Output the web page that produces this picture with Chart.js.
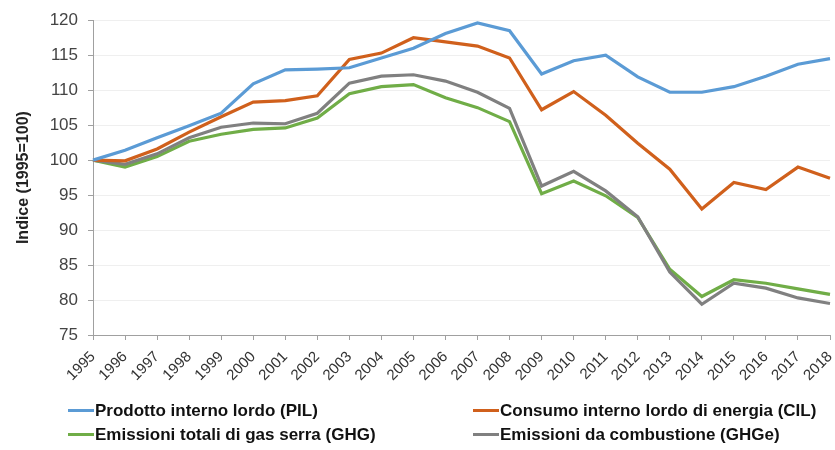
<!DOCTYPE html>
<html>
<head>
<meta charset="utf-8">
<script src="https://cdn.jsdelivr.net/npm/chart.js@4.4.0/dist/chart.umd.min.js"></script>
<style>
  body { margin: 0; background: #fff; }
  #wrap { position: relative; width: 835px; height: 450px; }
  .leg { position: absolute; font: bold 17px/20px "Liberation Sans", Arial, sans-serif; color: #111; white-space: nowrap; }
  .leg span { display: inline-block; width: 26px; height: 3px; vertical-align: middle; margin-right: 1px; position: relative; top: -1px; }
</style>
</head>
<body>
<div id="wrap">
  <canvas id="chart" width="835" height="450"></canvas>
  <div class="leg" style="left:68px; top:401px;"><span style="background:#5b9bd5"></span>Prodotto interno lordo (PIL)</div>
  <div class="leg" style="left:473px; top:401px;"><span style="background:#d0601c"></span>Consumo interno lordo di energia (CIL)</div>
  <div class="leg" style="left:68px; top:425px;"><span style="background:#70ad47"></span>Emissioni totali di gas serra (GHG)</div>
  <div class="leg" style="left:473px; top:425px;"><span style="background:#808080"></span>Emissioni da combustione (GHGe)</div>
</div>
<script>
const years = ['1995','1996','1997','1998','1999','2000','2001','2002','2003','2004','2005','2006',
  '2007','2008','2009','2010','2011','2012','2013','2014','2015','2016','2017','2018'];
const pil  = [100, 101.4, 103.2, 104.9, 106.7, 110.9, 112.9, 113.0, 113.2, 114.6, 116.0, 118.1,
  119.6, 118.5, 112.3, 114.2, 115.0, 111.9, 109.7, 109.7, 110.5, 112.0, 113.7, 114.5];
const cil  = [100, 99.9, 101.6, 104.0, 106.2, 108.3, 108.5, 109.2, 114.4, 115.3, 117.5, 116.9,
  116.3, 114.6, 107.2, 109.8, 106.4, 102.4, 98.7, 93.0, 96.8, 95.8, 99.0, 97.4];
const ghg  = [100, 99.0, 100.5, 102.7, 103.7, 104.4, 104.6, 106.0, 109.5, 110.5, 110.8, 108.9,
  107.5, 105.5, 95.2, 97.0, 94.9, 91.8, 84.4, 80.5, 82.9, 82.4, 81.6, 80.8];
const ghge = [100, 99.4, 100.9, 103.2, 104.7, 105.3, 105.2, 106.7, 111.0, 112.0, 112.2, 111.3,
  109.7, 107.4, 96.3, 98.4, 95.6, 91.9, 84.0, 79.4, 82.4, 81.7, 80.3, 79.5];
const yTicks = [75, 80, 85, 90, 95, 100, 105, 110, 115, 120];

const line = (label, data, color) => ({
  label, data, borderColor: color, backgroundColor: color,
  borderWidth: 3.2, pointRadius: 0, tension: 0, fill: false
});

new Chart(document.getElementById('chart'), {
  type: 'line',
  data: {
    labels: years,
    datasets: [
      line('Prodotto interno lordo (PIL)', pil, '#5b9bd5'),
      line('Consumo interno lordo di energia (CIL)', cil, '#d0601c'),
      line('Emissioni da combustione (GHGe)', ghge, '#808080'),
      line('Emissioni totali di gas serra (GHG)', ghg, '#70ad47')
    ]
  },
  options: {
    responsive: false,
    animation: false,
    layout: { padding: { left: 13, right: 5, top: 11, bottom: 0 } },
    plugins: { legend: { display: false }, tooltip: { enabled: false } },
    scales: {
      x: {
        offset: false,
        grid: { drawOnChartArea: false, drawTicks: true, tickLength: 5, color: '#a0a0a0' },
        border: { color: '#a0a0a0' },
        ticks: {
          minRotation: 45, maxRotation: 45, autoSkip: false,
          color: '#333', font: { family: 'Liberation Sans', size: 15 }, padding: 8
        },
        afterFit: s => { s.height = 115; s.paddingLeft = 0; s.paddingRight = 0; }
      },
      y: {
        min: 75, max: 120,
        afterBuildTicks: s => { s.ticks = yTicks.map(v => ({ value: v })); },
        grid: { color: '#efefef', tickLength: 5, tickColor: '#a0a0a0' },
        border: { color: '#a0a0a0' },
        ticks: { color: '#444', font: { family: 'Liberation Sans', size: 17 }, padding: 10 },
        title: {
          display: true, text: 'Indice (1995=100)', color: '#222',
          font: { family: 'Liberation Sans', size: 16, weight: 'bold' }, padding: { top: 1, bottom: 10 }
        },
        afterFit: s => { s.width = 80; }
      }
    }
  }
});
</script>
</body>
</html>
